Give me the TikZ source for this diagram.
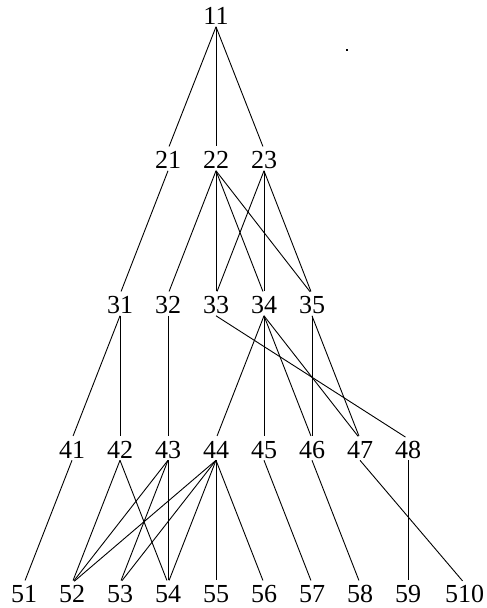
\documentclass[tikz,border=0pt]{standalone}
\usepackage{fontspec}
\setmainfont{Liberation Serif}
\begin{document}
\begin{tikzpicture}[x=1pt,y=-1pt,
  lbl/.style={inner xsep=0pt,inner ysep=2pt,outer sep=0pt,text height=17.6pt,text depth=0pt,font=\fontsize{26}{30}\selectfont},
  edge/.style={draw=black,line width=0.9pt,shorten >=3pt}]
\useasboundingbox (0,0) rectangle (487,608);
% row 1
\node[lbl] (n11) at (216,16) {11};
% row 2
\node[lbl] (n21) at (168,160) {21};
\node[lbl] (n22) at (216,160) {22};
\node[lbl] (n23) at (264,160) {23};
% row 3
\node[lbl] (n31) at (120,305) {31};
\node[lbl] (n32) at (168,305) {32};
\node[lbl] (n33) at (216,305) {33};
\node[lbl] (n34) at (264,305) {34};
\node[lbl] (n35) at (312,305) {35};
% row 4
\node[lbl] (n41) at (72,449.5) {41};
\node[lbl] (n42) at (120,449.5) {42};
\node[lbl] (n43) at (168,449.5) {43};
\node[lbl] (n44) at (216,449.5) {44};
\node[lbl] (n45) at (264,449.5) {45};
\node[lbl] (n46) at (312,449.5) {46};
\node[lbl] (n47) at (360,449.5) {47};
\node[lbl] (n48) at (408,449.5) {48};
% row 5
\node[lbl] (n51) at (24,594) {51};
\node[lbl] (n52) at (72,594) {52};
\node[lbl] (n53) at (120,594) {53};
\node[lbl] (n54) at (168,594) {54};
\node[lbl] (n55) at (216,594) {55};
\node[lbl] (n56) at (264,594) {56};
\node[lbl] (n57) at (312,594) {57};
\node[lbl] (n58) at (360,594) {58};
\node[lbl] (n59) at (408,594) {59};
\node[lbl] (n510) at (464.5,594) {510};
% stray dot
\fill (346,49) rectangle (348,51);
% edges
\foreach \a/\b in {11/21,11/22,11/23,
  21/31,22/32,22/33,22/34,22/35,23/33,23/34,23/35,
  31/41,31/42,32/43,33/48,34/44,34/45,34/46,34/47,35/46,35/47,
  41/51,42/52,42/54,43/52,43/53,43/54,44/52,44/53,44/54,44/55,44/56,
  45/57,46/58,47/510,48/59}
  \draw[edge] (n\a.south) -- (n\b.north);
\end{tikzpicture}
\end{document}
